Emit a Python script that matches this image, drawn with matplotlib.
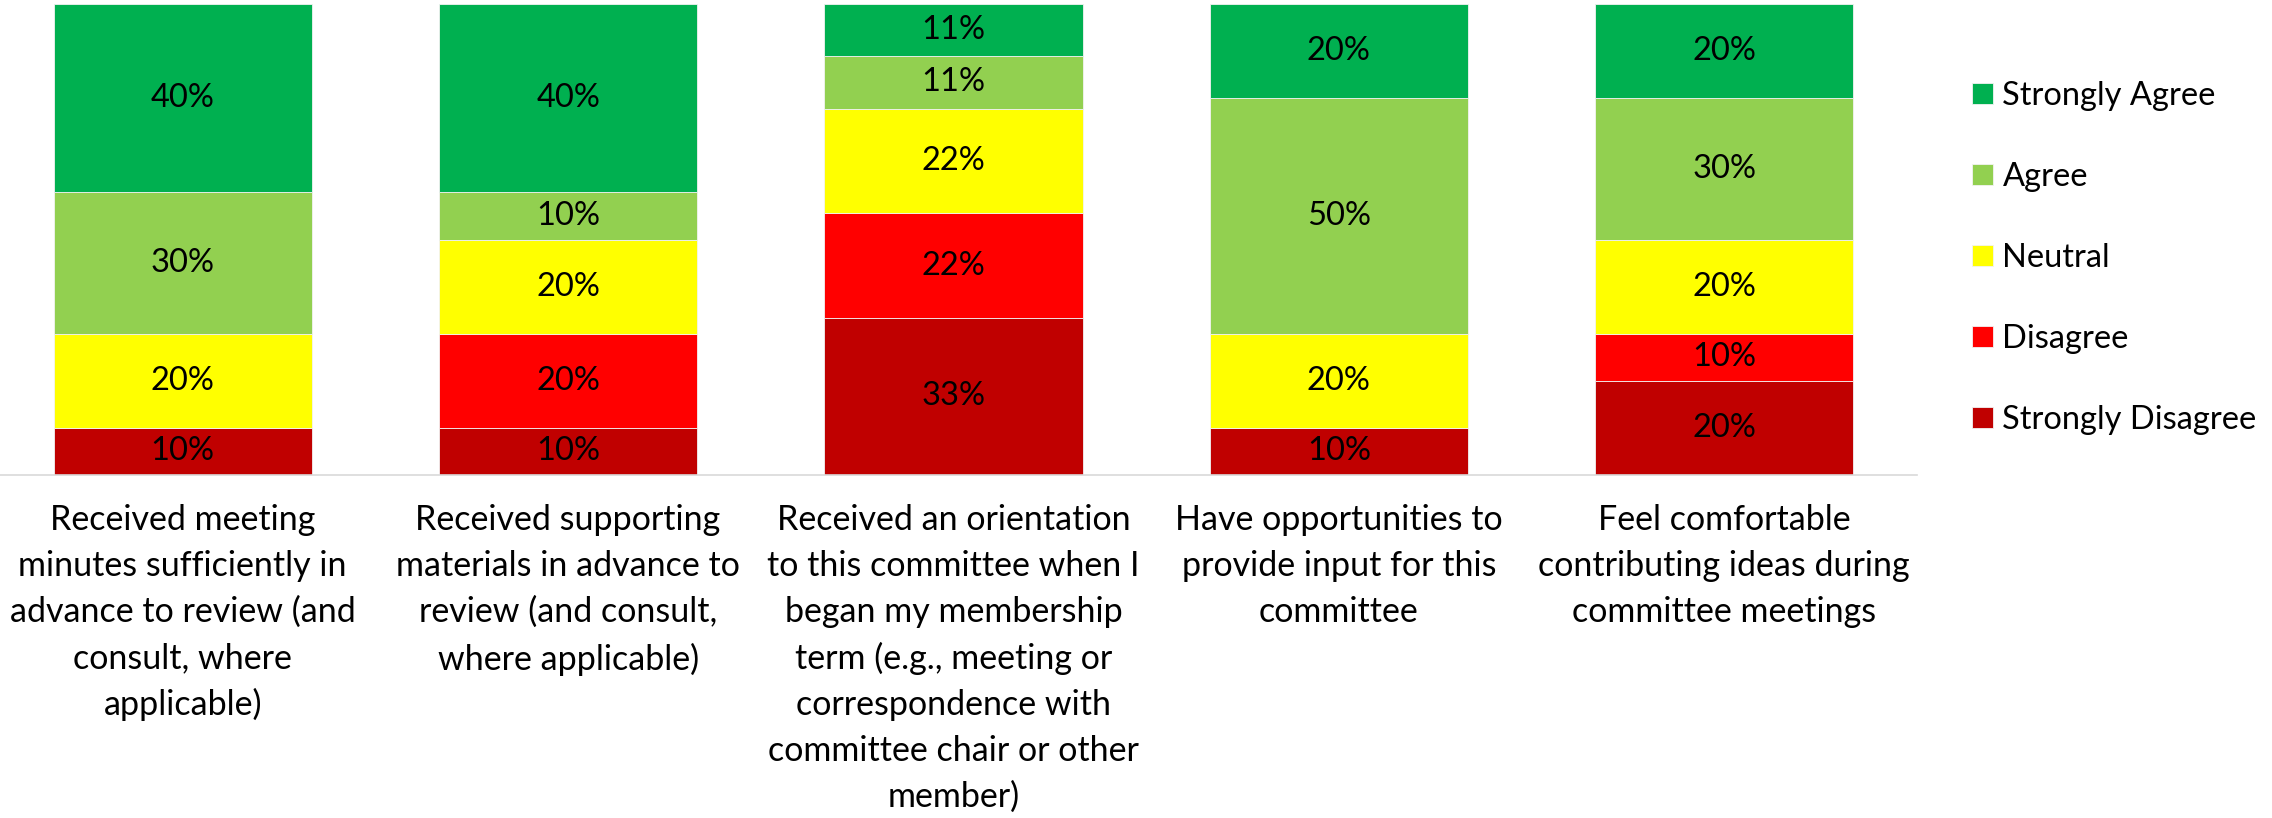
import matplotlib.pyplot as plt
import numpy as np

# -----------------------------------------------------------------------------
# Data
# -----------------------------------------------------------------------------
categories = [
    "Received meeting\nminutes sufficiently in\nadvance to review (and\nconsult, where\napplicable)",
    "Received supporting\nmaterials in advance to\nreview (and consult,\nwhere applicable)",
    "Received an orientation\nto this committee when I\nbegan my membership\nterm (e.g., meeting or\ncorrespondence with\ncommittee chair or other\nmember)",
    "Have opportunities to\nprovide input for this\ncommittee",
    "Feel comfortable\ncontributing ideas during\ncommittee meetings",
]
levels = ["Strongly Disagree", "Disagree", "Neutral", "Agree", "Strongly Agree"]

strongly_disagree = [10, 10, 33.34, 10, 20]
disagree = [0, 20, 22.22, 0, 10]
neutral = [20, 20, 22.22, 20, 20]
agree = [30, 10, 11.11, 50, 30]
strongly_agree = [40, 40, 11.11, 20, 20]

shown_labels = {
    "Strongly Disagree": ["10%", "10%", "33%", "10%", "20%"],
    "Disagree": ["", "20%", "22%", "", "10%"],
    "Neutral": ["20%", "20%", "22%", "20%", "20%"],
    "Agree": ["30%", "10%", "11%", "50%", "30%"],
    "Strongly Agree": ["40%", "40%", "11%", "20%", "20%"],
}

colors = ["#C00000", "#FF0000", "#FFFF00", "#92D050", "#00B050"]

# -----------------------------------------------------------------------------
# Plot
# -----------------------------------------------------------------------------
plt.rcParams["font.family"] = ["Lato", "DejaVu Sans"]
FS_CAT = 24.5
FS_VAL = 23.5
FS_LEG = 23.5

W, H = 2272, 818
fig = plt.figure(figsize=(W / 100, H / 100), dpi=100)
ax = fig.add_axes([-10 / W, 1 - 475 / H, 1927 / W, 471 / H])

series = [strongly_disagree, disagree, neutral, agree, strongly_agree]
x = np.arange(len(categories))
bottom = np.zeros(len(categories))
handles = []
for name, vals, col in zip(levels, series, colors):
    vals = np.array(vals, dtype=float)
    bars = ax.bar(x, vals, bottom=bottom, width=0.67, color=col,
                  edgecolor="#F2F2F2", linewidth=0.6, label=name)
    handles.append(bars)
    for i, (v, b) in enumerate(zip(vals, bottom)):
        txt = shown_labels[name][i]
        if txt:
            ax.text(x[i], b + v / 2, txt, ha="center", va="center",
                    fontsize=FS_VAL, color="black")
    bottom += vals

ax.set_xlim(-0.5, len(categories) - 0.5)
ax.set_ylim(0, 100)
ax.set_yticks([])
ax.set_xticks(x)
ax.set_xticklabels(categories, fontsize=FS_CAT, linespacing=1.53, va="top")
ax.tick_params(axis="x", length=0, pad=21)

for s in ["top", "right", "left"]:
    ax.spines[s].set_visible(False)
ax.spines["bottom"].set_color("#D9D9D9")
ax.spines["bottom"].set_linewidth(1.2)

fig.legend(handles[::-1], levels[::-1], loc="upper left",
           bbox_to_anchor=(1959 / W, 1 - 68 / H), frameon=False,
           fontsize=FS_LEG, handlelength=0.63, handleheight=0.63,
           handletextpad=0.3, labelspacing=1.56, borderaxespad=0)

fig.savefig("out.png", dpi=100)
